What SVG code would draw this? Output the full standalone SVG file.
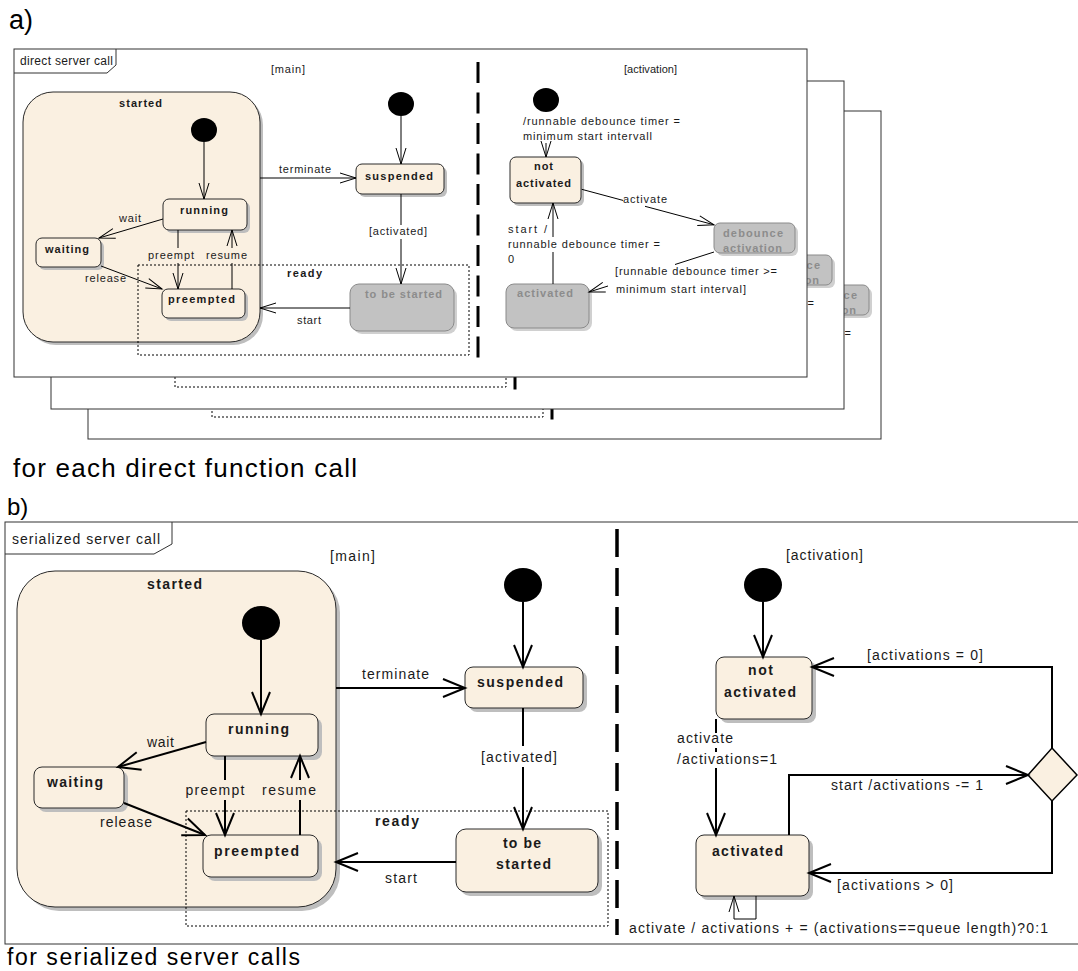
<svg xmlns="http://www.w3.org/2000/svg" width="1078" height="971" viewBox="0 0 1078 971">
<defs>
<style>
text{font-family:"Liberation Sans",Arial,sans-serif;fill:#1a1a1a}
.a{font-size:11px}
.b{font-size:14px}
.bold{font-weight:bold}
.mid{text-anchor:middle}
.n{fill:#FAF0E1;stroke:#2a2a2a;stroke-width:1}
.sh{fill:#BEBEBE}
.shg{fill:#D0D0D0}
.g{fill:#C2C2C2;stroke:#8A8A8A;stroke-width:1}
.gt{fill:#8C8C8C}
.c{fill:none;stroke:#000;stroke-width:1}
.cb{fill:none;stroke:#000;stroke-width:2}
.frame{fill:#fff;stroke:#333;stroke-width:1}
.dot{fill:none;stroke:#000;stroke-width:1;stroke-dasharray:2 2}
.init{fill:#000}
.cap{font-size:26px;fill:#000}
</style>
<marker id="ma" markerUnits="userSpaceOnUse" markerWidth="20" markerHeight="14" viewBox="-18 -7 20 14" refX="0" refY="0" orient="auto" overflow="visible">
<path d="M-16,-5 L0,0 L-16,5" fill="none" stroke="#000" stroke-width="1"/>
</marker>
<marker id="mb" markerUnits="userSpaceOnUse" markerWidth="26" markerHeight="22" viewBox="-24 -11 26 22" refX="0" refY="0" orient="auto" overflow="visible">
<path d="M-22,-9 L0,0 L-22,9" fill="none" stroke="#000" stroke-width="2"/>
</marker>
</defs>
<rect width="1078" height="971" fill="#fff"/>

<text x="9" y="29" style="font-size:27px;fill:#000">a)</text>

<use href="#diagA" transform="translate(74,62)"/>
<use href="#diagA" transform="translate(37,32)"/>

<g id="diagA">
  <g id="a-frame">
    <rect class="frame" x="14" y="49" width="793" height="328"/>
    <path class="c" d="M14,73 H107 L116,65 V49" style="stroke:#333"/>
    <text x="20" y="65" style="font-size:12px" textLength="93" lengthAdjust="spacing">direct server call</text>
    <text class="a" x="271" y="73" textLength="34">[main]</text>
    <text class="a" x="624" y="73" textLength="53">[activation]</text>
    <line x1="478" y1="62" x2="478" y2="358" stroke="#000" stroke-width="3" stroke-dasharray="21 9.5"/>
  </g>
  <g id="a-started">
    <rect class="sh" x="26" y="95" width="237" height="250" rx="30"/>
    <rect class="n" x="23" y="92" width="237" height="250" rx="30"/>
    <text class="a bold mid" x="140.5" y="107" textLength="43">started</text>
  </g>
  <g id="a-ready">
    <rect class="dot" x="138" y="265" width="331" height="90"/>
    <text class="a bold" x="287" y="277" textLength="35">ready</text>
  </g>
  <g id="a-init-started"><ellipse class="init" cx="204" cy="130" rx="13" ry="12"/></g>
  <g id="a-running">
    <rect class="sh" x="166" y="202" width="84" height="31" rx="6"/>
    <rect class="n" x="163" y="199" width="84" height="31" rx="6"/>
    <text class="a bold mid" x="204" y="214" textLength="48">running</text>
  </g>
  <g id="a-waiting">
    <rect class="sh" x="39" y="241" width="65" height="29" rx="6"/>
    <rect class="n" x="36" y="238" width="65" height="29" rx="6"/>
    <text class="a bold mid" x="67" y="253" textLength="44">waiting</text>
  </g>
  <g id="a-preempted">
    <rect class="sh" x="165" y="292" width="83" height="29" rx="6"/>
    <rect class="n" x="162" y="289" width="83" height="29" rx="6"/>
    <text class="a bold mid" x="201.5" y="303" textLength="67">preempted</text>
  </g>
  <g id="a-init-main"><ellipse class="init" cx="401" cy="104" rx="13" ry="12"/></g>
  <g id="a-suspended">
    <rect class="sh" x="359" y="167" width="88" height="30" rx="6"/>
    <rect class="n" x="356" y="164" width="88" height="30" rx="6"/>
    <text class="a bold mid" x="399" y="180" textLength="68">suspended</text>
  </g>
  <g id="a-tobestarted">
    <rect class="shg" x="353" y="287" width="104" height="47" rx="9"/>
    <rect class="g" x="350" y="284" width="104" height="47" rx="9"/>
    <text class="a bold mid gt" x="403.5" y="298" textLength="77">to be started</text>
  </g>
  <g id="a-init-act"><ellipse class="init" cx="546" cy="100" rx="13" ry="12"/></g>
  <g id="a-notactivated">
    <rect class="sh" x="513" y="160" width="71" height="46" rx="6"/>
    <rect class="n" x="510" y="157" width="71" height="46" rx="6"/>
    <text class="a bold mid" x="543.5" y="170" textLength="19">not</text>
    <text class="a bold mid" x="543.5" y="187" textLength="55">activated</text>
  </g>
  <g id="a-debounce">
    <rect class="shg" x="717" y="226" width="81" height="30" rx="6"/>
    <rect class="g" x="714" y="223" width="81" height="30" rx="6"/>
    <text class="a bold mid gt" x="753" y="237" textLength="60">debounce</text>
    <text class="a bold mid gt" x="752.5" y="252" textLength="59">activation</text>
  </g>
  <g id="a-activated">
    <rect class="shg" x="509" y="287" width="83" height="44" rx="8"/>
    <rect class="g" x="506" y="284" width="83" height="44" rx="8"/>
    <text class="a bold mid gt" x="545" y="297" textLength="56">activated</text>
  </g>
  <g id="a-connectors">
    <line class="c" x1="204" y1="142" x2="204" y2="199" marker-end="url(#ma)"/>
    <line class="c" x1="163" y1="219" x2="99" y2="238" marker-end="url(#ma)"/>
    <text class="a" x="119" y="222" textLength="22">wait</text>
    <line class="c" x1="178" y1="230" x2="178" y2="248"/>
    <line class="c" x1="178" y1="263" x2="178" y2="289" marker-end="url(#ma)"/>
    <text class="a mid" x="171" y="259" textLength="46">preempt</text>
    <line class="c" x1="232" y1="289" x2="232" y2="263"/>
    <line class="c" x1="232" y1="248" x2="232" y2="230" marker-end="url(#ma)"/>
    <text class="a mid" x="226.5" y="259" textLength="41">resume</text>
    <line class="c" x1="101" y1="266" x2="162" y2="289" marker-end="url(#ma)"/>
    <text class="a" x="85" y="282" textLength="41">release</text>
    <line class="c" x1="260" y1="178" x2="356" y2="178" marker-end="url(#ma)"/>
    <text class="a" x="279" y="173" textLength="52">terminate</text>
    <line class="c" x1="401" y1="116" x2="401" y2="164" marker-end="url(#ma)"/>
    <line class="c" x1="401" y1="194" x2="401" y2="225"/>
    <line class="c" x1="401" y1="239" x2="401" y2="284" marker-end="url(#ma)"/>
    <text class="a mid" x="398" y="235" textLength="58">[activated]</text>
    <line class="c" x1="350" y1="308" x2="260" y2="308" marker-end="url(#ma)"/>
    <text class="a" x="297" y="324" textLength="24">start</text>
    <text class="a" x="523" y="125" textLength="157">/runnable debounce timer =</text>
    <text class="a" x="523" y="140" textLength="129">minimum start intervall</text>
    <line class="c" x1="546" y1="143" x2="546" y2="157" marker-end="url(#ma)"/>
    <line class="c" x1="581.7" y1="189.3" x2="623" y2="200.4"/>
    <line class="c" x1="645" y1="206.3" x2="714" y2="224.8" marker-end="url(#ma)"/>
    <text class="a" x="623" y="203" textLength="44">activate</text>
    <line class="c" x1="553" y1="284" x2="553" y2="252"/>
    <line class="c" x1="553" y1="237" x2="553" y2="203" marker-end="url(#ma)"/>
    <text class="a" x="508" y="233" textLength="39">start /</text>
    <text class="a" x="508" y="248" textLength="152">runnable debounce timer =</text>
    <text class="a" x="508" y="263">0</text>
    <line class="c" x1="714" y1="252" x2="675" y2="264.5"/>
    <line class="c" x1="608" y1="286" x2="589" y2="292" marker-end="url(#ma)"/>
    <text class="a" x="615" y="275" textLength="162">[runnable debounce timer &gt;=</text>
    <text class="a" x="616" y="293" textLength="130">minimum start interval]</text>
  </g>
</g>

<text x="13" y="477" class="cap" textLength="344" lengthAdjust="spacing">for each direct function call</text>
<text x="7" y="515" style="font-size:24px;fill:#000">b)</text>

<g id="diagB">
  <g id="b-frame">
    <rect class="frame" x="5" y="522" width="1090" height="422"/>
    <path class="c" d="M5,554 H154 L172,544 V522" style="stroke:#333"/>
    <text class="b" x="12" y="544" textLength="148">serialized server call</text>
    <text class="b" x="330" y="561" textLength="45">[main]</text>
    <text class="b" x="786" y="560" textLength="77">[activation]</text>
    <line x1="617" y1="529" x2="617" y2="935" stroke="#000" stroke-width="3.5" stroke-dasharray="28 11"/>
  </g>
  <g id="b-started">
    <rect class="sh" x="21" y="575" width="319" height="336" rx="38"/>
    <rect class="n" x="17" y="571" width="319" height="336" rx="38"/>
    <text class="b bold mid" x="174.5" y="589" textLength="55">started</text>
  </g>
  <g id="b-ready">
    <rect class="dot" x="186" y="811" width="422" height="115"/>
    <text class="b bold" x="375" y="826" textLength="44">ready</text>
  </g>
  <g id="b-init-started"><ellipse class="init" cx="261" cy="623" rx="19" ry="17"/></g>
  <g id="b-running">
    <rect class="sh" x="210" y="718" width="112" height="42" rx="8"/>
    <rect class="n" x="206" y="714" width="112" height="42" rx="8"/>
    <text class="b bold mid" x="258.5" y="734" textLength="61">running</text>
  </g>
  <g id="b-waiting">
    <rect class="sh" x="38" y="771" width="90" height="41" rx="8"/>
    <rect class="n" x="34" y="767" width="90" height="41" rx="8"/>
    <text class="b bold mid" x="75" y="787" textLength="56">waiting</text>
  </g>
  <g id="b-preempted">
    <rect class="sh" x="207" y="839" width="115" height="42" rx="8"/>
    <rect class="n" x="203" y="835" width="115" height="42" rx="8"/>
    <text class="b bold mid" x="256.5" y="856" textLength="85">preempted</text>
  </g>
  <g id="b-init-main"><ellipse class="init" cx="523" cy="585" rx="19" ry="17"/></g>
  <g id="b-suspended">
    <rect class="sh" x="469" y="671" width="118" height="41" rx="8"/>
    <rect class="n" x="465" y="667" width="118" height="41" rx="8"/>
    <text class="b bold mid" x="520" y="687" textLength="86">suspended</text>
  </g>
  <g id="b-tobestarted">
    <rect class="sh" x="460" y="833" width="142" height="63" rx="10"/>
    <rect class="n" x="456" y="829" width="142" height="63" rx="10"/>
    <text class="b bold mid" x="522" y="848" textLength="38">to be</text>
    <text class="b bold mid" x="523.5" y="869" textLength="55">started</text>
  </g>
  <g id="b-init-act"><ellipse class="init" cx="763" cy="585" rx="19" ry="17"/></g>
  <g id="b-notactivated">
    <rect class="sh" x="720" y="661" width="96" height="62" rx="8"/>
    <rect class="n" x="716" y="657" width="96" height="62" rx="8"/>
    <text class="b bold mid" x="760.5" y="675" textLength="25">not</text>
    <text class="b bold mid" x="760" y="697" textLength="72">activated</text>
  </g>
  <g id="b-choice">
    <polygon points="1052,748 1077,775 1052,801 1028,775" fill="#FAF0E1" stroke="#000" stroke-width="1.5"/>
  </g>
  <g id="b-activated">
    <rect class="sh" x="700" y="839" width="113" height="61" rx="8"/>
    <rect class="n" x="696" y="835" width="113" height="61" rx="8"/>
    <text class="b bold mid" x="747.5" y="856" textLength="71">activated</text>
  </g>
  <g id="b-connectors">
    <line class="cb" x1="261" y1="640" x2="261" y2="714" marker-end="url(#mb)"/>
    <line class="cb" x1="206" y1="742" x2="118" y2="767" marker-end="url(#mb)"/>
    <text class="b" x="147" y="747" textLength="27">wait</text>
    <line class="cb" x1="225" y1="756" x2="225" y2="780"/>
    <line class="cb" x1="225" y1="800" x2="225" y2="835" marker-end="url(#mb)"/>
    <text class="b mid" x="215" y="795" textLength="59">preempt</text>
    <line class="cb" x1="300" y1="835" x2="300" y2="800"/>
    <line class="cb" x1="300" y1="780" x2="300" y2="756" marker-end="url(#mb)"/>
    <text class="b mid" x="289" y="795" textLength="54">resume</text>
    <line class="cb" x1="124" y1="803" x2="205" y2="835" marker-end="url(#mb)"/>
    <text class="b" x="100" y="827" textLength="52">release</text>
    <line class="cb" x1="336" y1="688" x2="465" y2="688" marker-end="url(#mb)"/>
    <text class="b" x="362" y="679" textLength="67">terminate</text>
    <line class="cb" x1="523" y1="602" x2="523" y2="667" marker-end="url(#mb)"/>
    <line class="cb" x1="523" y1="708" x2="523" y2="746"/>
    <line class="cb" x1="523" y1="767" x2="523" y2="829" marker-end="url(#mb)"/>
    <text class="b mid" x="519" y="762" textLength="76">[activated]</text>
    <line class="cb" x1="456" y1="862" x2="336" y2="862" marker-end="url(#mb)"/>
    <text class="b" x="385" y="883" textLength="32">start</text>
    <line class="cb" x1="763" y1="602" x2="763" y2="657" marker-end="url(#mb)"/>
    <polyline class="cb" points="1052,748 1052,667 812,667" marker-end="url(#mb)"/>
    <text class="b" x="867" y="660" textLength="116">[activations = 0]</text>
    <polyline class="cb" points="789,835 789,775 1028,775" marker-end="url(#mb)"/>
    <text class="b" x="831" y="790" textLength="152">start /activations -= 1</text>
    <polyline class="cb" points="1052,801 1052,873 809,873" marker-end="url(#mb)"/>
    <text class="b" x="837" y="890" textLength="116">[activations &gt; 0]</text>
    <line class="cb" x1="716" y1="719" x2="716" y2="733"/>
    <line class="cb" x1="716" y1="748" x2="716" y2="752"/>
    <line class="cb" x1="716" y1="768" x2="716" y2="835" marker-end="url(#mb)"/>
    <text class="b" x="677" y="743" textLength="56">activate</text>
    <text class="b" x="677" y="764" textLength="100">/activations=1</text>
    <polyline class="c" points="756,896 756,919 734,919 734,896" marker-end="url(#ma)"/>
    <text class="b" x="629" y="933" textLength="419">activate / activations + = (activations==queue length)?0:1</text>
  </g>
</g>

<text x="7" y="965" style="font-size:23px;fill:#000" textLength="293" lengthAdjust="spacing">for serialized server calls</text>
</svg>
